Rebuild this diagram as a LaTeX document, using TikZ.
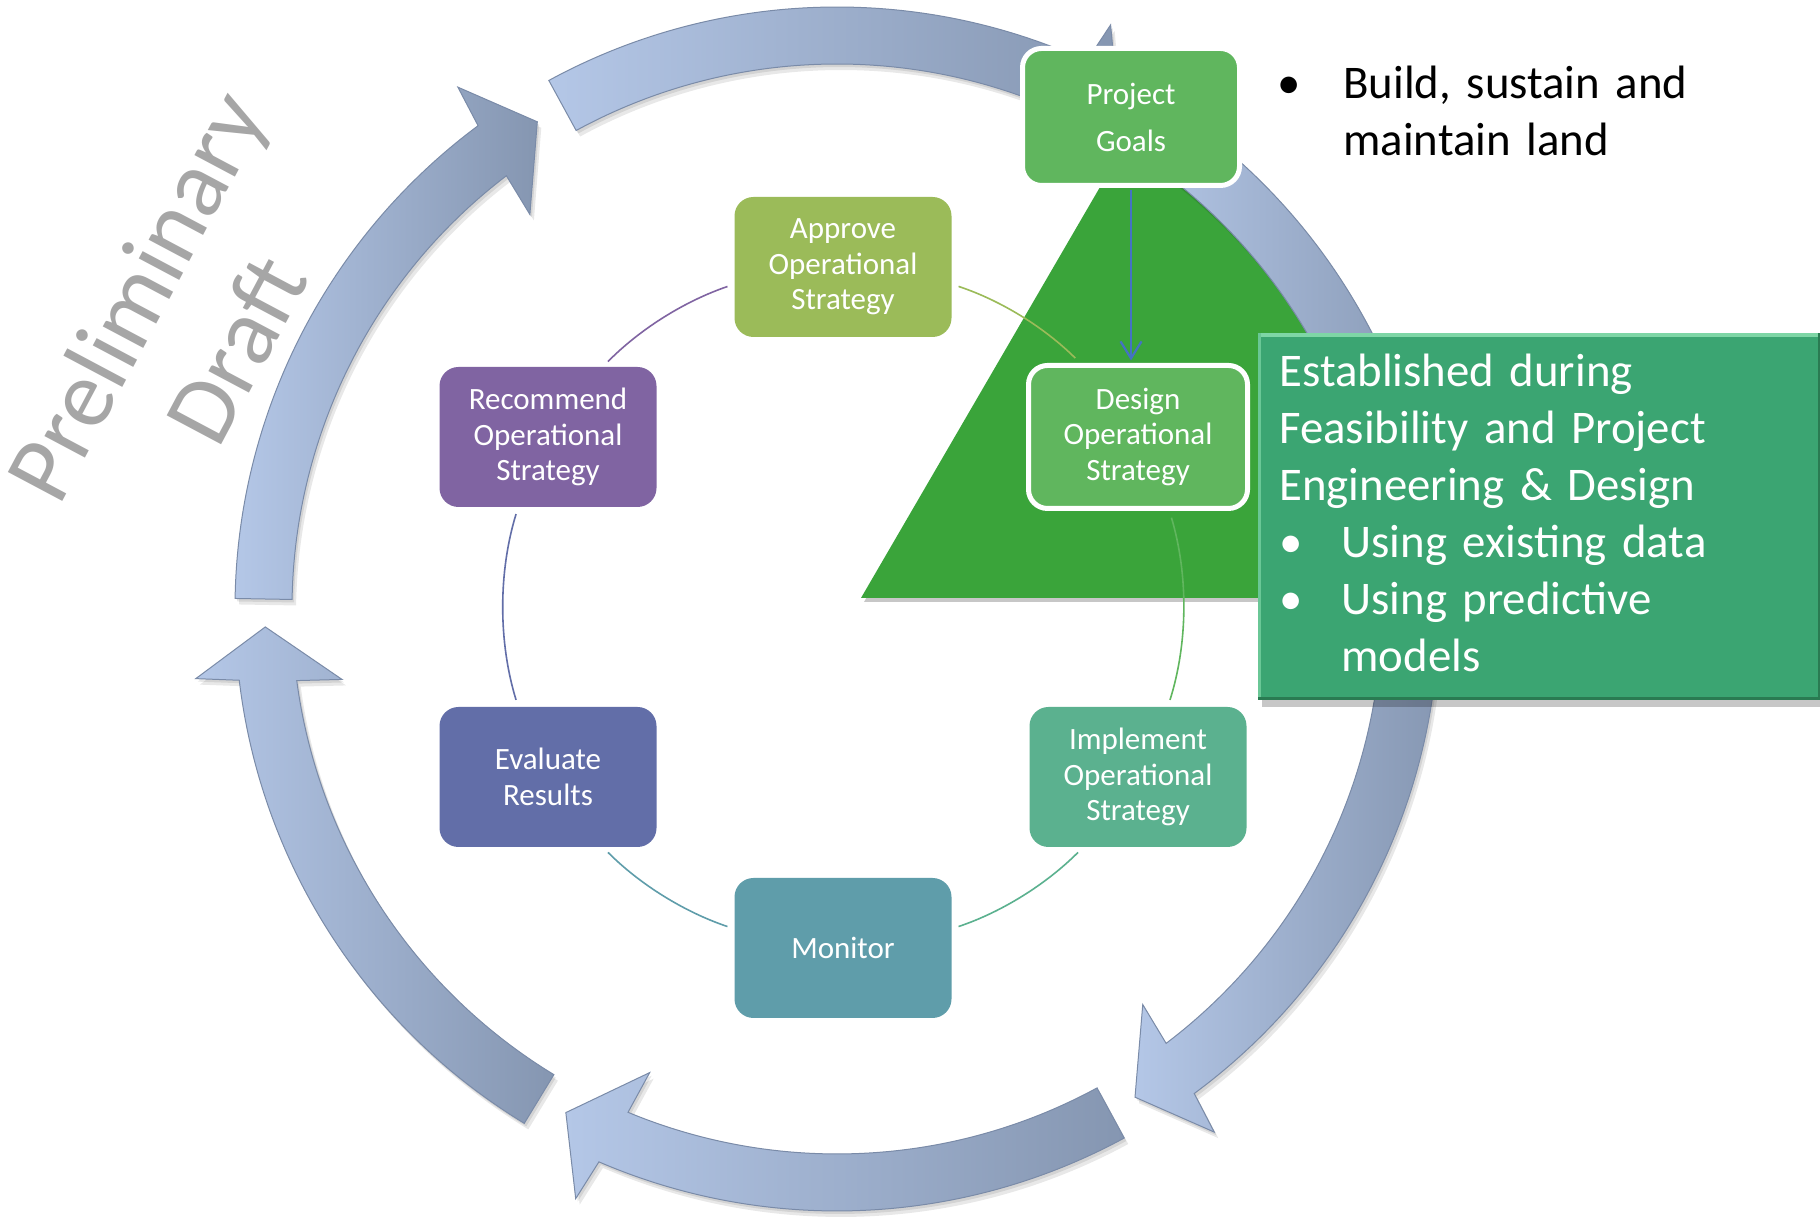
\documentclass[tikz,border=0pt]{standalone}
\usepackage{fontspec}
\setmainfont{Carlito}
\usetikzlibrary{arrows.meta}
\definecolor{apprc}{HTML}{9BBB59}
\definecolor{recc}{HTML}{8064A2}
\definecolor{evalc}{HTML}{626EA8}
\definecolor{monc}{HTML}{5F9DAA}
\definecolor{implc}{HTML}{5BB18F}
\definecolor{goalc}{HTML}{60B65E}
\definecolor{trigreen}{HTML}{3AA43A}
\definecolor{estc}{HTML}{3BA572}
\definecolor{estlight}{HTML}{7ED6A6}
\definecolor{estdark}{HTML}{2A7B52}
\definecolor{arlight}{HTML}{B4C7E7}
\definecolor{ardark}{HTML}{8596B1}
\definecolor{aredge}{HTML}{7A8BA8}
\definecolor{arrowblue}{HTML}{4472C4}
\definecolor{draftgray}{HTML}{A6A6A6}
\newcommand\ringpath[2]{(#1:602) arc[start angle=#1, end angle={#2+5}, radius=602] -- ({#2+4.4}:645) -- (#2:572) -- ({#2+6.3}:500) -- ({#2+5.75}:545) arc[start angle={#2+5.75}, end angle=#1, radius=545] -- cycle}
\newcommand\ringarrow[2]{%
  \fill[black, opacity=0.09, shift={(2,-3)}] \ringpath{#1}{#2};
  \fill[black, opacity=0.09, shift={(4,-6)}] \ringpath{#1}{#2};
  \shadedraw[left color=arlight, right color=ardark, draw=aredge, line width=0.5pt] \ringpath{#1}{#2};
}
\tikzset{
  stage/.style={rounded corners=9.5pt, minimum width=108.5pt, minimum height=70pt, inner sep=0pt,
    text=white, align=center, font=\fontsize{15.5pt}{17.7pt}\selectfont},
  keystage/.style={stage, draw=white, line width=2.5pt},
  link/.style={line width=0.8pt, shorten <=3.5pt, shorten >=3.5pt},
  goalarrow/.style={draw=arrowblue, line width=1.1pt, -{Straight Barb[length=8.5pt, width=10.5pt]},
    shorten <=1.25pt, shorten >=1.25pt},
  bigtext/.style={inner sep=0pt, align=left, font=\fontsize{23.4pt}{28.5pt}\selectfont},
}
\begin{document}
\begin{tikzpicture}[x=0.5pt,y=0.5pt]
\useasboundingbox (0,0) rectangle (1820,1218);
\fill[white] (0,0) rectangle (1820,1218);

% green triangle
\fill[black, opacity=0.22] (864,616) -- (1149,1106) -- (1580,616) -- cycle;
\fill[trigreen] (861,620) -- (1146,1110) -- (1577,620) -- cycle;

% ring of arrows
\begin{scope}[shift={(837,609)}]
  \ringarrow{179}{121.6}
  \ringarrow{118.6}{60.5}
  \ringarrow{57}{-58.6}
  \ringarrow{-61.5}{-118.3}
  \ringarrow{-121.3}{-178.2}
\end{scope}

% stages
\node[stage, fill=apprc] (appr) at (843,951) {Approve\\Operational\\Strategy};
\node[stage, fill=recc] (rec) at (548,781) {Recommend\\Operational\\Strategy};
\node[stage, fill=evalc] (eval) at (548,441) {Evaluate\\Results};
\node[stage, fill=monc] (mon) at (843,270) {Monitor};
\node[stage, fill=implc] (impl) at (1138,441) {Implement\\Operational\\Strategy};
\node[keystage, fill=goalc, minimum width=109.5pt, minimum height=71.5pt] (design) at (1138,781) {Design\\Operational\\Strategy};
\node[keystage, fill=goalc, minimum width=108.5pt, minimum height=68.5pt,
  font=\fontsize{15.5pt}{23.5pt}\selectfont] (pg) at (1131,1101) {Project\\Goals};

% cycle connectors
\draw[link, recc] (rec.52) to[bend left=13.25, looseness=0.87] (appr.189);
\draw[link, apprc] (appr.351) to[bend left=13.25, looseness=0.87] (design.128);
\draw[link, goalc] (design.293) to[bend left=17.1, looseness=0.87] (impl.67);
\draw[link, implc] (impl.232) to[bend left=13.25, looseness=0.87] (mon.10);
\draw[link, monc] (mon.170) to[bend left=13.25, looseness=0.87] (eval.308);
\draw[link, evalc] (eval.113) to[bend left=17.1, looseness=0.87] (rec.247);

% goals to design
\draw[goalarrow] (pg.south) -- (pg.south |- design.north);

% established box
\fill[black, opacity=0.22] (1262,511) rectangle (1820,880);
\node[fill=estc, inner sep=0pt, minimum width=281pt, minimum height=183pt, anchor=south west] (estbox) at (1258,518) {};
\draw[estlight, line width=2pt] ([yshift=-1pt]estbox.north west) -- ([yshift=-1pt]estbox.north east);
\draw[estlight!70!estc, line width=1.5pt] ([xshift=0.75pt]estbox.north west) -- ([xshift=0.75pt]estbox.south west);
\draw[estdark, line width=1.5pt] ([yshift=0.75pt]estbox.south west) -- ([yshift=0.75pt]estbox.south east);
\draw[estdark, line width=1.5pt] ([xshift=-0.75pt]estbox.north east) -- ([xshift=-0.75pt]estbox.south east);
\node[bigtext, text=white, text width=265pt, anchor=base west] (esttext) at (1279,831)
  {Established during\\Feasibility and Project\\Engineering \& Design\\%
   \makebox[31pt][l]{\textbullet}Using existing data\\%
   \makebox[31pt][l]{\textbullet}Using predictive\\%
   \hspace*{31pt}models};

% goals text
\node[bigtext, text=black, text width=250pt, anchor=base west] (goaltext) at (1277,1119)
  {\makebox[33pt][l]{\textbullet}Build, sustain and\\\hspace*{33pt}maintain land};

% watermark
\node[rotate=62, text=draftgray, align=center, inner sep=0pt,
  font=\fontsize{48pt}{57pt}\selectfont] (draft) at (185,896) {Preliminary\\Draft};
\end{tikzpicture}
\end{document}
